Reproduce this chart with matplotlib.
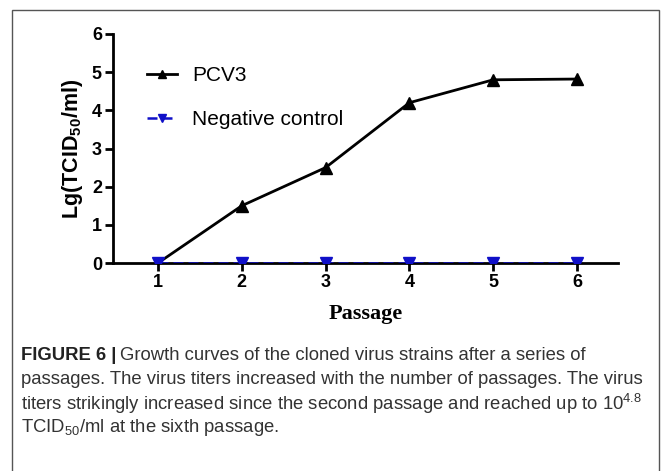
import matplotlib
matplotlib.use("Agg")
import matplotlib.pyplot as plt
from matplotlib.patches import Rectangle

passages = [1, 2, 3, 4, 5, 6]
pcv3 = [0.0, 1.5, 2.5, 4.2, 4.8, 4.82]
negative = [0.0, 0.0, 0.0, 0.0, 0.0, 0.0]
yticks = [0, 1, 2, 3, 4, 5, 6]

plt.rcParams['font.family'] = ['Liberation Sans', 'DejaVu Sans']
plt.rcParams['mathtext.fontset'] = 'custom'
plt.rcParams['mathtext.rm'] = 'Liberation Sans'
plt.rcParams['mathtext.bf'] = 'Liberation Sans:bold'
plt.rcParams['mathtext.it'] = 'Liberation Sans:italic'

W, H = 670, 471
fig = plt.figure(figsize=(W / 100, H / 100), dpi=100)

# outer frame
fig.patches.append(Rectangle((12 / W, -0.01), (659 - 12) / W, (H - 10) / H + 0.01,
                             transform=fig.transFigure, fill=False,
                             edgecolor='#555555', linewidth=1.0))

ax = fig.add_axes([113 / W, 1 - 263 / H, (618 - 113) / W, (263 - 34) / H])
ax.plot(passages, pcv3, color='black', lw=2, marker='^', ms=8, label='PCV3', zorder=3)
ax.plot(passages, negative, color='#1010c8', lw=1.8, ls=(0, (4, 2)), marker='v', ms=8,
        label='Negative control', zorder=4)

ax.set_xlim(1 - 45 / 83.8, 6 + 41 / 83.8)
ax.set_ylim(0, 6)
ax.set_xticks(passages)
ax.set_yticks(yticks)
for s in ['top', 'right']:
    ax.spines[s].set_visible(False)
for s in ['left', 'bottom']:
    ax.spines[s].set_linewidth(2)
ax.tick_params(axis='both', width=2, length=6, labelsize=13, pad=2)
for lab in ax.get_xticklabels() + ax.get_yticklabels():
    lab.set_fontweight('bold')
ax.set_ylabel(r'Lg(TCID$_{\mathbf{50}}$/ml)', fontsize=15.5, fontweight='bold', labelpad=5)
ax.set_xlabel('Passage', fontsize=16, fontweight='bold', family='Liberation Serif', labelpad=9)

leg = ax.legend(loc='upper left', bbox_to_anchor=(0.031, 0.94), frameon=False,
                fontsize=15, handlelength=1.4, labelspacing=1.2, handletextpad=0.75,
                markerscale=0.8)

# caption
fs = 13.3
y0 = 1 - 356 / H
x0 = 21 / W
t1 = fig.text(x0, y0, 'FIGURE 6 |', fontsize=fs, fontweight='bold', va='center', color='#222222')
fig.canvas.draw()
r = fig.canvas.get_renderer()
bb = t1.get_window_extent(r)
fig.text((bb.x1 + 4) / W, y0, 'Growth curves of the cloned virus strains after a series of',
         fontsize=fs, va='center', color='#333333')
lines = [
    'passages. The virus titers increased with the number of passages. The virus',
    r'titers strikingly increased since the second passage and reached up to 10$^{4.8}$',
    r'TCID$_{50}$/ml at the sixth passage.',
]
for i, l in enumerate(lines):
    fig.text(x0, 1 - (380 + 24 * i) / H, l, fontsize=fs, va='center', color='#333333')

fig.savefig('out.png', dpi=100)
